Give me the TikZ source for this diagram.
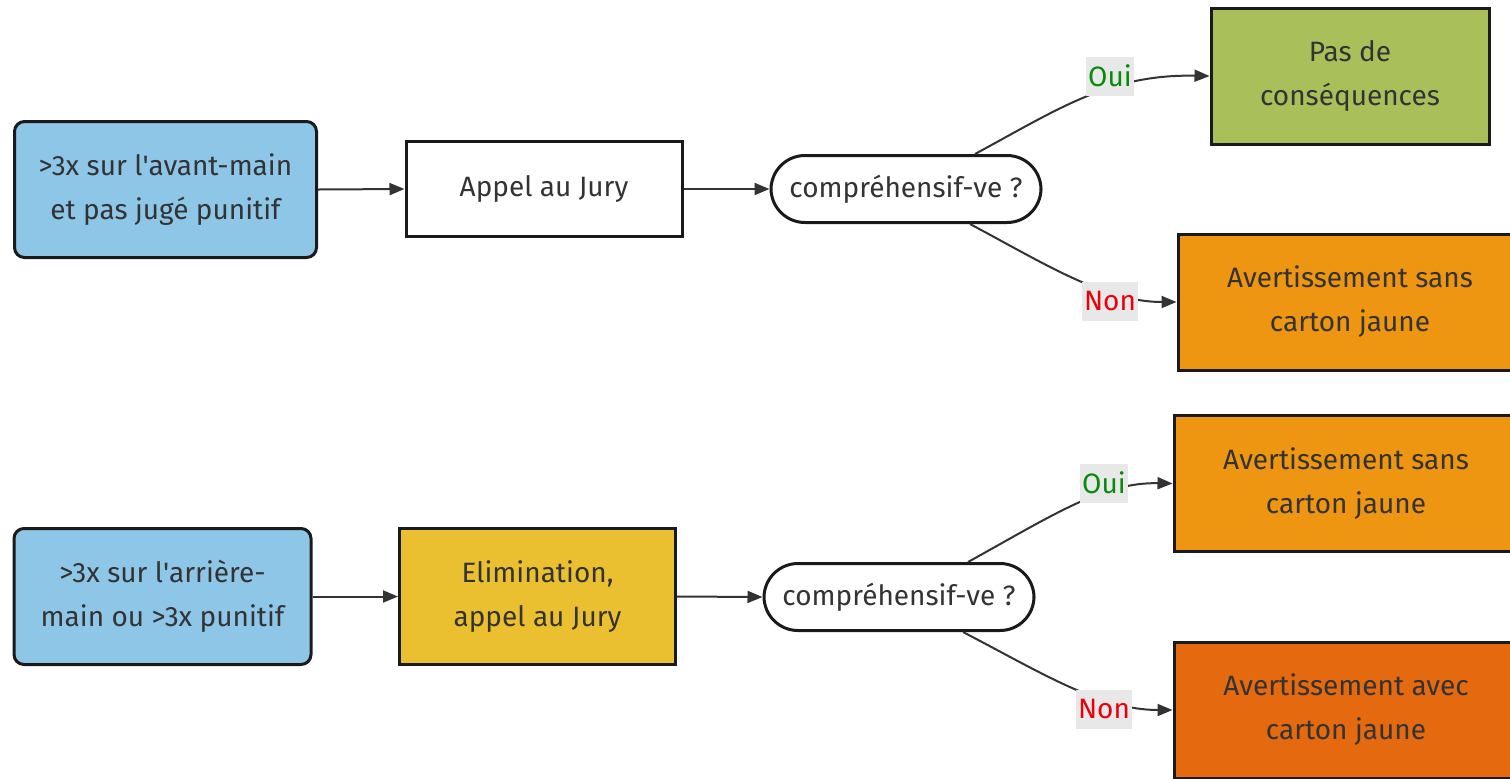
\documentclass[tikz,border=0pt]{standalone}
\usepackage{fontspec}
\setmainfont{Fira Sans}
\usetikzlibrary{arrows.meta,calc}
\definecolor{txt}{HTML}{333333}
\definecolor{bord}{HTML}{1A1A1A}
\definecolor{cblue}{HTML}{8EC6E8}
\definecolor{cgreen}{HTML}{A9C05A}
\definecolor{corange}{HTML}{EE9511}
\definecolor{cyellow}{HTML}{EAC031}
\definecolor{cdark}{HTML}{E4690F}
\definecolor{lblbg}{HTML}{E8E8E8}
\definecolor{ouigreen}{HTML}{0A8A0A}
\definecolor{nonred}{HTML}{E8000B}
\begin{document}
\begin{tikzpicture}[x=0.5pt,y=-0.5pt,
  every node/.style={font=\fontsize{14pt}{22pt}\selectfont, text=txt},
  stepbox/.style={draw=bord, line width=1.5pt, align=center, inner sep=0pt},
  startbox/.style={stepbox, rounded corners=5pt, fill=cblue, minimum width=151pt, minimum height=68pt},
  decbox/.style={stepbox, fill=white, rounded corners=17pt, minimum width=135pt, minimum height=33.5pt},
  resbox/.style={stepbox, minimum width=172pt, minimum height=68pt},
  lbl/.style={fill=lblbg, inner xsep=1pt, inner ysep=0pt, minimum height=19.5pt},
  arr/.style={draw=txt, line width=1pt, -{Triangle[length=7.5pt,width=6pt]}}
]
\useasboundingbox (0,0) rectangle (1510,778);

% top row
\node[startbox] (a1) at (165.5,189.5) {>3x sur l\textquotesingle avant-main\\et pas jugé punitif};
\node[stepbox, fill=white, minimum width=138pt, minimum height=47.5pt] (b1) at (544,189) {Appel au Jury};
\node[decbox] (c1) at (906,189) {compréhensif-ve ?};
\node[resbox, fill=cgreen, minimum width=139pt] (d1) at (1350,76) {Pas de\\conséquences};
\node[resbox, fill=corange] (e1) at (1350,302) {Avertissement sans\\carton jaune};

% bottom row
\node[startbox, minimum width=148.5pt] (a2) at (162.5,596.5) {>3x sur l\textquotesingle arrière-\\main ou >3x punitif};
\node[stepbox, fill=cyellow, minimum width=138pt, minimum height=68pt] (b2) at (537.5,596.5) {Elimination,\\appel au Jury};
\node[decbox] (c2) at (899,597) {compréhensif-ve ?};
\node[resbox, fill=corange] (d2) at (1346,483.5) {Avertissement sans\\carton jaune};
\node[resbox, fill=cdark] (e2) at (1346,710) {Avertissement avec\\carton jaune};

% connectors
\draw[arr] (a1.east) -- (b1.west);
\draw[arr] (b1.east) -- (c1.west);
\draw[arr] (a2.east) -- (b2.west);
\draw[arr] (b2.east) -- (c2.west);

\coordinate (c1o) at ($(c1.north)+(69,0)$);
\coordinate (c1n) at ($(c1.south)+(64,0)$);
\coordinate (c2o) at ($(c2.north)+(69,0)$);
\coordinate (c2n) at ($(c2.south)+(64,0)$);

\draw[arr] (c1o) .. controls (1060,108) and (1110,74) .. (d1.west);
\draw[arr] (c1n) .. controls (1045,264) and (1105,302) .. (e1.west);
\draw[arr] (c2o) .. controls (1053,515) and (1103,482) .. (d2.west);
\draw[arr] (c2n) .. controls (1040,672) and (1100,710) .. (e2.west);

\node[lbl, text=ouigreen] (l1) at (1110,76) {Oui};
\node[lbl, text=nonred] (l2) at (1110,301) {Non};
\node[lbl, text=ouigreen] (l3) at (1104,483) {Oui};
\node[lbl, text=nonred] (l4) at (1104,709) {Non};
\end{tikzpicture}
\end{document}
